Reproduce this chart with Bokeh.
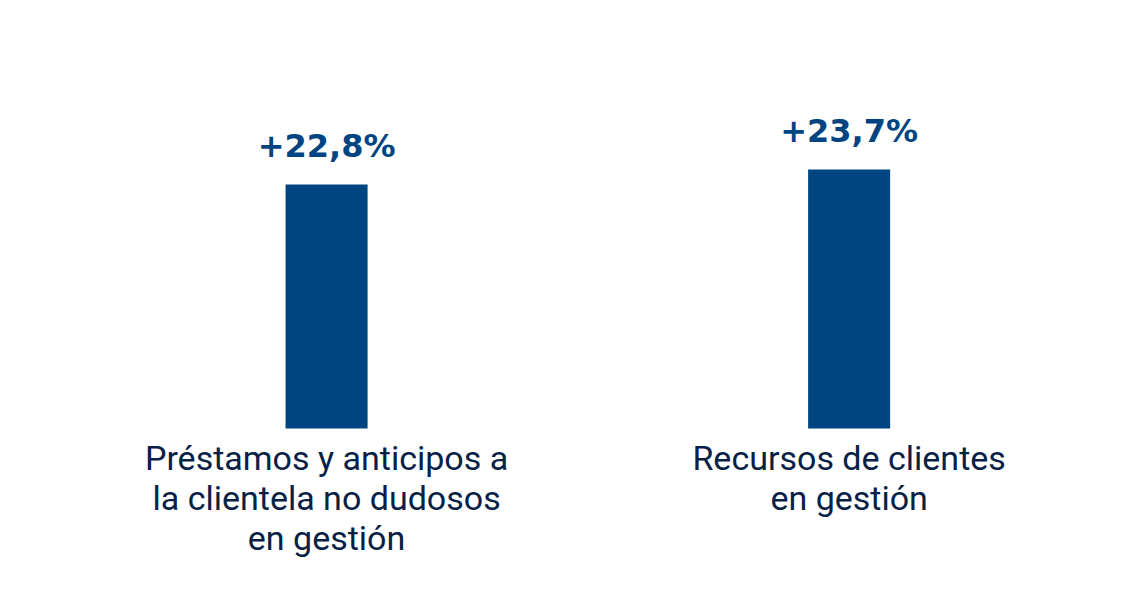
from bokeh.plotting import figure
from bokeh.models import Range1d, ColumnDataSource
from bokeh.core.properties import value
from bokeh.embed import file_html
from bokeh.resources import INLINE

categories = ["Préstamos y anticipos a\nla clientela no dudosos\nen gestión",
              "Recursos de clientes\nen gestión"]
values = [22.8, 23.7]
value_labels = ["+22,8%", "+23,7%"]
xpos = [1, 2]
baseline = 8.16

BAR = "#004481"
NAVY = "#072146"

src = ColumnDataSource(dict(x=xpos, top=values, lab=value_labels, cat=categories,
                            base=[baseline] * len(values)))

p = figure(width=1147, height=595, output_backend="svg", toolbar_location=None,
           x_range=Range1d(0.376, 2.571), y_range=Range1d(-1.86, 33.84),
           min_border=0, outline_line_color=None, background_fill_color="white",
           border_fill_color="white")
p.axis.visible = False
p.grid.visible = False

p.vbar(x="x", top="top", bottom="base", width=0.157, source=src,
       fill_color=BAR, line_color=None)

p.text(x="x", y="top", text="lab", source=src, text_align="center",
       text_baseline="alphabetic", y_offset=-39, text_color=BAR,
       text_font=value("DejaVu Sans"), text_font_size="32px", text_font_style="bold")

p.text(x="x", y="base", text="cat", source=src, text_align="center",
       text_baseline="top", y_offset=9, text_color=NAVY,
       text_font=value("Roboto"), text_font_size="34px", text_line_height=1.0)

open("out.html", "w").write(file_html(p, INLINE))
